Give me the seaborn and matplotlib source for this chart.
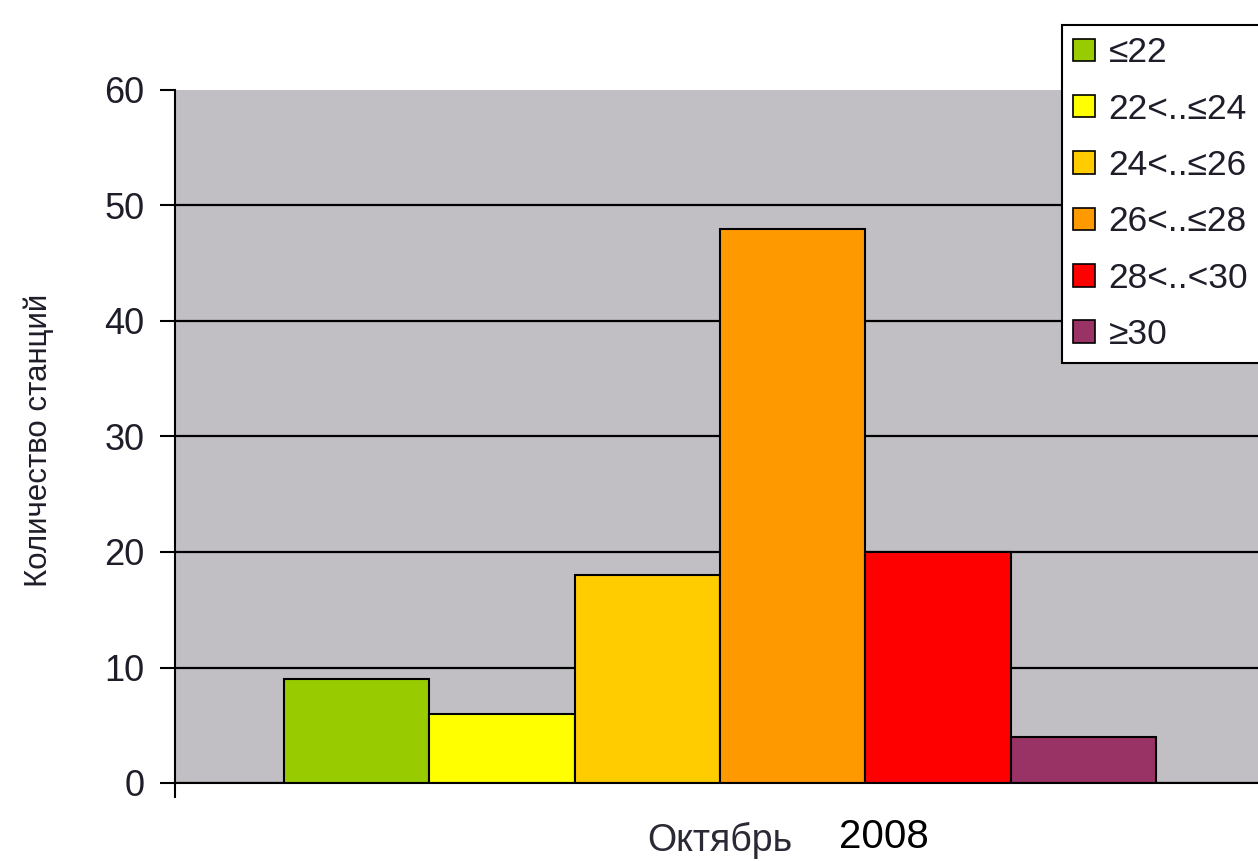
import matplotlib
matplotlib.use("Agg")
import matplotlib.pyplot as plt
import seaborn as sns
import pandas as pd

# Station counts per temperature range, October
month = "Октябрь"
year_label = "2008"
ranges = ["≤22", "22<..≤24", "24<..≤26", "26<..≤28", "28<..<30", "≥30"]
stations = [9, 6, 18, 48, 20, 4]
colors = ["#99CC00", "#FFFF00", "#FFCC00", "#FF9900", "#FF0000", "#993366"]
y_ticks = [0, 10, 20, 30, 40, 50, 60]
y_label = "Количество станций"

sns.set_theme(style="white")
plt.rcParams["font.family"] = ["Liberation Sans", "DejaVu Sans"]

df = pd.DataFrame({"month": [month] * len(ranges), "range": ranges, "count": stations})

W, H = 1258, 861
fig = plt.figure(figsize=(W / 100, H / 100), dpi=100)
ax = fig.add_axes([175 / W, 1 - 783 / H, (1265 - 175) / W, (783 - 90) / H])

sns.barplot(data=df, x="month", y="count", hue="range", hue_order=ranges,
            palette=colors, width=0.8, saturation=1, edgecolor="black",
            linewidth=1.5, ax=ax)

ax.set_facecolor("#C1BFC4")
ax.set_xlim(-0.5, 0.5)
ax.set_ylim(0, 60)
ax.set_yticks(y_ticks)
ax.set_yticklabels([str(v) for v in y_ticks], fontsize=26, color="#1e1e2a")
ax.tick_params(axis="y", left=True, direction="out", length=11, width=1.5,
               color="black", pad=11)
ax.tick_params(axis="x", which="major", length=0, pad=28, labelsize=27,
               labelcolor="#2a2a36")
ax.set_xticks([-0.5, 0.5], minor=True)
ax.tick_params(axis="x", which="minor", bottom=True, direction="out",
               length=11, width=1.5, color="black")

ax.yaxis.grid(True, color="black", linewidth=1.6)
ax.set_axisbelow(True)
ax.yaxis.get_gridlines()[-1].set_visible(False)

for side in ["top", "right"]:
    ax.spines[side].set_visible(False)
for side in ["left", "bottom"]:
    ax.spines[side].set_color("black")
    ax.spines[side].set_linewidth(1.5)

ax.set_xlabel("")
ax.set_ylabel(y_label, fontsize=22.5, color="#1e1e2a")
ax.yaxis.set_label_coords((54 - 175) / (1265 - 175), (783 - 440) / (783 - 90))

handles, labels = ax.get_legend_handles_labels()
leg = ax.legend(handles, labels, loc="upper left",
                bbox_to_anchor=(1062 / W, 1 - 25 / H), bbox_transform=fig.transFigure,
                frameon=True, fancybox=False, framealpha=1, edgecolor="black",
                facecolor="white", fontsize=25.5, handlelength=0.6, handleheight=0.6,
                handletextpad=0.4, labelspacing=0.66, borderpad=0.32,
                borderaxespad=0)
leg.get_frame().set_linewidth(1.5)
for h in leg.legend_handles:
    h.set_edgecolor("black")
    h.set_linewidth(1.2)
for t in leg.get_texts():
    t.set_color("#1e1e2a")

fig.text(884 / W, 1 - 837 / H, year_label, ha="center", va="center",
         fontsize=29, color="black")

fig.savefig("out.png", dpi=100)
